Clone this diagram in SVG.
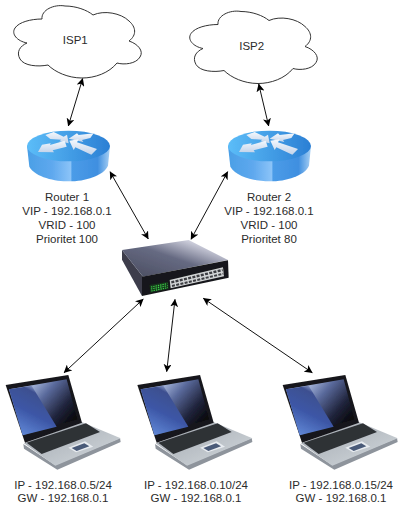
<svg xmlns="http://www.w3.org/2000/svg" xmlns:xlink="http://www.w3.org/1999/xlink" width="414" height="518" viewBox="0 0 414 518">
<style>
.t{font-family:"Liberation Sans",Arial,sans-serif;font-size:11.5px;fill:#2b2b2b;text-anchor:middle}
.c{fill:none;stroke:#111;stroke-width:1;marker-start:url(#ah);marker-end:url(#ah)}
.cl{fill:#fff;stroke:#333;stroke-width:1}
.wa{fill:url(#wa)}
</style>
<defs>
<marker id="ah" viewBox="0 0 10 10" refX="9.5" refY="5" markerWidth="8" markerHeight="8" markerUnits="userSpaceOnUse" orient="auto-start-reverse"><path d="M0 0L10 5L0 10L2.5 5Z" fill="#000"/></marker>
<linearGradient id="rt" x1="0" y1="0" x2="1" y2="0"><stop offset="0" stop-color="#5cbdf8"/><stop offset="1" stop-color="#2b7fd4"/></linearGradient>
<linearGradient id="rb" x1="0" y1="0" x2="1" y2="0"><stop offset="0" stop-color="#4a9fe6"/><stop offset=".3" stop-color="#5ea8ee"/><stop offset=".53" stop-color="#8cc4f8"/><stop offset=".54" stop-color="#4b9ce8"/><stop offset=".85" stop-color="#3f8fe0"/><stop offset="1" stop-color="#a8d0f4"/></linearGradient>
<linearGradient id="wa" x1="0" y1="0" x2="0" y2="1"><stop offset="0" stop-color="#f4f8fd"/><stop offset="1" stop-color="#c4d4ea"/></linearGradient>
<linearGradient id="st" x1="0" y1="1" x2="1" y2="0"><stop offset="0" stop-color="#484b5e"/><stop offset=".5" stop-color="#666a82"/><stop offset=".82" stop-color="#d2d3e0"/><stop offset="1" stop-color="#9a9cae"/></linearGradient>
<linearGradient id="sc" x1=".3" y1=".15" x2="1" y2=".65"><stop offset="0" stop-color="#a4b4da"/><stop offset=".3" stop-color="#5a6a9c"/><stop offset=".7" stop-color="#20243c"/><stop offset="1" stop-color="#08080c"/></linearGradient>
<linearGradient id="sl" x1="0" y1="1" x2=".5" y2="0"><stop offset="0" stop-color="#6a94e2"/><stop offset=".55" stop-color="#3c56a6"/><stop offset=".9" stop-color="#3e5090"/><stop offset="1" stop-color="#8c9cc8"/></linearGradient>
<linearGradient id="bs" x1="0" y1="0" x2="1" y2="1"><stop offset="0" stop-color="#a0a6ae"/><stop offset="1" stop-color="#d4dade"/></linearGradient>
<filter id="soft" x="-5%" y="-5%" width="110%" height="110%"><feGaussianBlur stdDeviation="1.200"/></filter>
<path id="cloud" d="M42 19C41 10 54 4 65 6C76 6 87 10 93 15C104 10 121 13 129 21C136 27 137 35 129 41C138 44 144 51 140 57C136 64 124 65 117 63C109 73 95 78 82 78C68 78 55 72 48 65C38 67 24 66 20 59C16 52 20 46 27 43C17 41 11 34 15 28C19 22 31 19 42 19Z"/>
<g id="router" transform="translate(22 124) scale(.33333)" filter="url(#soft)">
<path d="M15 65L22 128C40 160 100 172 140 172C190 172 245 155 258 125L264 65Z" fill="url(#rb)"/>
<ellipse cx="139.500" cy="66" rx="124.500" ry="46" fill="url(#rt)"/>
<path d="M70 33L95 24L125 38L135 32L140 58L112 52L118 47L85 45Z" class="wa"/>
<path d="M128 50L134 68L92 79L96 85L48 84L60 62L86 58L84 63Z" class="wa"/>
<path d="M215 28L205 42L180 48L184 54L140 44L165 28L170 33Z" class="wa"/>
<path d="M142 50L170 46L165 55L225 75L208 92L160 70L155 78Z" class="wa"/>
</g>
<g id="laptop" transform="translate(0 370) scale(.33333)" filter="url(#soft)">
<path d="M70 222L72 236L172 299L362 216L360 204L165 285Z" fill="#8e949c"/>
<path d="M72 220L245 156L362 205L166 287Z" fill="url(#bs)"/>
<path d="M17 45L205 15L246 158L75 218Z" fill="#16161a"/>
<path d="M27 58L200 28L232 148L68 196Z" fill="url(#sc)"/>
<path d="M27 58L95 47L170 170L68 196Z" fill="url(#sl)"/>
<path d="M80 218L258 160L300 186L125 252Z" fill="#2e3136"/>
<path d="M205 233L255 214L280 230L228 247Z" fill="#e8ecf0"/>
<path d="M215 234L253 220L268 229L230 243Z" fill="#4a5a78"/>
</g>
</defs>

<g id="connectors">
<line class="c" x1="82.700" y1="78.500" x2="68.300" y2="126"/>
<line class="c" x1="258.700" y1="84" x2="268.700" y2="126"/>
<line class="c" x1="110" y1="171.700" x2="148.300" y2="239"/>
<line class="c" x1="227.700" y1="171.700" x2="191" y2="239.300"/>
<line class="c" x1="143.300" y1="299" x2="64" y2="372.700"/>
<line class="c" x1="175" y1="299.300" x2="166.700" y2="371.700"/>
<line class="c" x1="203.300" y1="298.300" x2="312.300" y2="372.700"/>
</g>

<g id="isp1"><use xlink:href="#cloud" href="#cloud" class="cl"/><text class="t" x="75.300" y="44">ISP1</text></g>
<g id="isp2"><use xlink:href="#cloud" href="#cloud" class="cl" transform="translate(176 5.500)"/><text class="t" x="251.700" y="50">ISP2</text></g>

<g id="router1"><use xlink:href="#router" href="#router"/>
<text class="t" x="67" y="201">Router 1</text><text class="t" x="67" y="215">VIP - 192.168.0.1</text><text class="t" x="67" y="229">VRID - 100</text><text class="t" x="67" y="243">Prioritet 100</text></g>
<g id="router2"><use xlink:href="#router" href="#router" transform="translate(201 0)"/>
<text class="t" x="269" y="201">Router 2</text><text class="t" x="269" y="215">VIP - 192.168.0.1</text><text class="t" x="269" y="229">VRID - 100</text><text class="t" x="269" y="243">Prioritet 80</text></g>

<g id="switch">
<g transform="translate(118 235) scale(.33333)" filter="url(#soft)">
<path d="M12 45L12 74L72 183L75 125Z" fill="#3c3e4c"/>
<path d="M12 45L212 15L330 75L75 125Z" fill="url(#st)"/>
<path d="M72 125L330 76L332 128L72 183Z" fill="#17181a"/>
<path d="M155 135L315 97L318 124L158 160Z" fill="#d2d4d6"/>
<path d="M160 142L314 105" stroke="#3c3e42" stroke-width="7" stroke-dasharray="9 4" fill="none"/>
<path d="M162 153L316 116" stroke="#3c3e42" stroke-width="6" stroke-dasharray="9 4" fill="none"/>
<path d="M95 150L150 140L152 161L97 173Z" fill="#16351c"/>
<path d="M99 156L148 146M99 162L149 152M100 168L150 158" stroke="#3ed84a" stroke-width="3.500" stroke-dasharray="4 3" fill="none"/>
</g>
</g>

<g id="laptop1"><use xlink:href="#laptop" href="#laptop"/><text class="t" x="63" y="489">IP - 192.168.0.5/24</text><text class="t" x="63" y="502">GW - 192.168.0.1</text></g>
<g id="laptop2"><use xlink:href="#laptop" href="#laptop" transform="translate(131.700 0)"/><text class="t" x="196" y="489">IP - 192.168.0.10/24</text><text class="t" x="196" y="502">GW - 192.168.0.1</text></g>
<g id="laptop3"><use xlink:href="#laptop" href="#laptop" transform="translate(277 0)"/><text class="t" x="341" y="489">IP - 192.168.0.15/24</text><text class="t" x="341" y="502">GW - 192.168.0.1</text></g>
</svg>
